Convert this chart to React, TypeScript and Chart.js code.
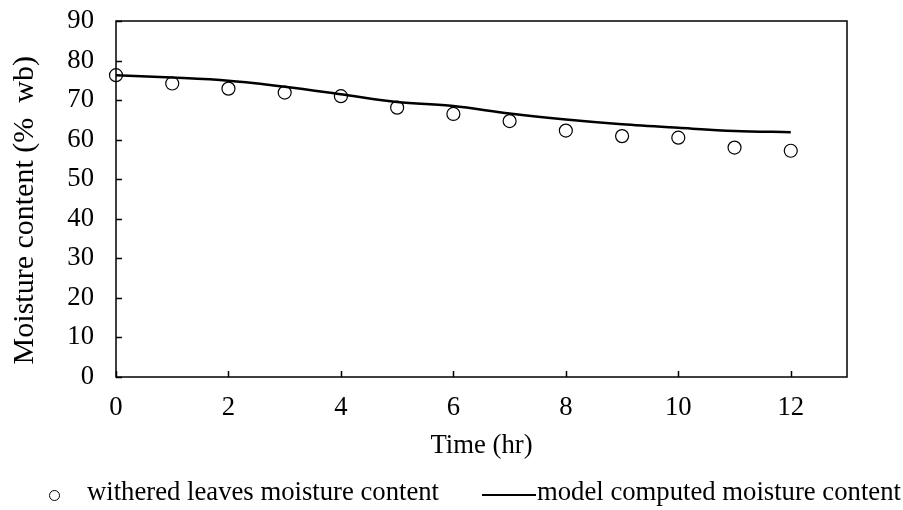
import React, { useEffect, useRef } from "react";
import { Chart, registerables } from "chart.js";

Chart.register(...registerables);

const hours = [0, 1, 2, 3, 4, 5, 6, 7, 8, 9, 10, 11, 12];
const measured = [76.3, 74.2, 72.9, 71.9, 71.0, 68.1, 66.5, 64.7, 62.3, 60.9, 60.5, 58.0, 57.2];
const model = [76.3, 75.7, 74.9, 73.4, 71.5, 69.5, 68.5, 66.6, 65.1, 63.9, 63.0, 62.2, 61.9];
const xTickValues = [0, 2, 4, 6, 8, 10, 12];
const xMax = 13;
const yMin = 0;
const yMax = 90;
const yStep = 10;
const xTitle = "Time (hr)";
const yTitle = "Moisture content (%  wb)   ";
const seriesNames = ["withered leaves moisture content", "model computed moisture content"];

const FONT = '"Liberation Serif", "Times New Roman", Times, serif';

const framePlugin = {
  id: "frameTicks",
  beforeDatasetsDraw(chart: any) {
    const { ctx, chartArea: a, scales } = chart;
    ctx.save();
    ctx.strokeStyle = "#000";
    ctx.lineWidth = 1.5;
    ctx.strokeRect(a.left, a.top, a.right - a.left, a.bottom - a.top);
    ctx.beginPath();
    scales.x.ticks.forEach((t: any) => {
      const px = Math.round(scales.x.getPixelForValue(t.value)) + 0.5;
      ctx.moveTo(px, a.bottom);
      ctx.lineTo(px, a.bottom - 6);
    });
    scales.y.ticks.forEach((t: any) => {
      const py = Math.round(scales.y.getPixelForValue(t.value)) + 0.5;
      ctx.moveTo(a.left, py);
      ctx.lineTo(a.left + 6, py);
    });
    ctx.stroke();
    ctx.restore();
  },
};

export default function App() {
  const ref = useRef<HTMLCanvasElement | null>(null);

  useEffect(() => {
    document.body.style.margin = "0";
    const canvas = ref.current;
    if (!canvas) return;
    const chart = new Chart(canvas, {
      type: "scatter",
      data: {
        datasets: [
          {
            label: seriesNames[0],
            data: hours.map((h, i) => ({ x: h, y: measured[i] })),
            showLine: false,
            pointStyle: "circle",
            pointRadius: 6.5,
            pointBorderWidth: 1.2,
            borderColor: "#000",
            backgroundColor: "rgba(0,0,0,0)",
            clip: false,
          } as any,
          {
            label: seriesNames[1],
            data: hours.map((h, i) => ({ x: h, y: model[i] })),
            showLine: true,
            pointRadius: 0,
            borderColor: "#000",
            borderWidth: 2.5,
            cubicInterpolationMode: "monotone",
            backgroundColor: "#000",
            clip: false,
          } as any,
        ],
      },
      options: {
        animation: false,
        responsive: false,
        maintainAspectRatio: false,
        layout: { padding: { left: 0, top: 21, right: 56, bottom: 0 } },
        plugins: {
          legend: { display: false },
          tooltip: { enabled: false },
        },
        scales: {
          x: {
            type: "linear",
            min: 0,
            max: xMax,
            grid: { display: false, drawTicks: false },
            border: { display: false },
            afterBuildTicks: (scale: any) => {
              scale.ticks = xTickValues.map((v) => ({ value: v }));
            },
            afterFit: (scale: any) => {
              scale.height = 133;
              scale.paddingLeft = 0;
              scale.paddingRight = 0;
            },
            ticks: {
              color: "#000",
              padding: 15,
              maxRotation: 0,
              font: { family: FONT, size: 26.7 },
            },
            title: {
              display: true,
              text: xTitle,
              color: "#000",
              padding: { top: 0, bottom: 48 },
              font: { family: FONT, size: 26.7 },
            },
          },
          y: {
            type: "linear",
            min: yMin,
            max: yMax,
            grid: { display: false, drawTicks: false },
            border: { display: false },
            ticks: {
              stepSize: yStep,
              color: "#000",
              padding: 22,
              font: { family: FONT, size: 26.7 },
            },
            afterFit: (scale: any) => {
              scale.width = 116;
              scale.paddingTop = 0;
              scale.paddingBottom = 0;
            },
            title: {
              display: true,
              text: yTitle,
              color: "#000",
              padding: { top: 7, bottom: 0 },
              font: { family: FONT, size: 30 },
            },
          },
        },
      },
      plugins: [framePlugin],
    });
    return () => chart.destroy();
  }, []);

  const legendText: React.CSSProperties = {
    fontFamily: FONT,
    fontSize: "26.7px",
    lineHeight: "32px",
    color: "#000",
    whiteSpace: "nowrap",
  };

  return (
    <div style={{ position: "fixed", left: 0, top: 0, width: 903, height: 510, background: "#fff" }}>
      <canvas ref={ref} width={903} height={510} style={{ position: "absolute", left: 0, top: 0, width: 903, height: 510 }} />
      <div
        style={{
          position: "absolute",
          left: 49,
          top: 475,
          display: "flex",
          alignItems: "center",
          height: 32,
        }}
      >
        <span
          style={{
            display: "inline-block",
            width: 11,
            height: 11,
            border: "1.2px solid #000",
            borderRadius: "50%",
            boxSizing: "border-box",
            marginTop: 8,
          }}
        />
        <span style={{ ...legendText, marginLeft: 27 }}>{seriesNames[0]}</span>
        <span
          style={{
            display: "inline-block",
            width: 54,
            height: 2.5,
            background: "#000",
            marginLeft: 43,
            marginTop: 8,
          }}
        />
        <span style={{ ...legendText, marginLeft: 1 }}>{seriesNames[1]}</span>
      </div>
    </div>
  );
}
